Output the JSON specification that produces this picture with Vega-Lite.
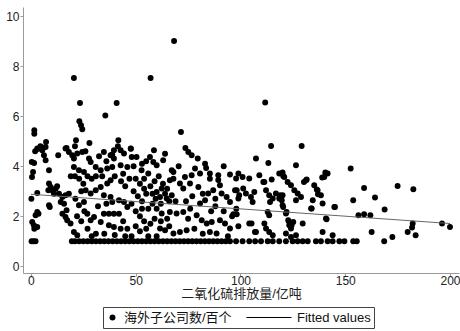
{
  "$schema": "https://vega.github.io/schema/vega-lite/v6.json",
  "width": 436,
  "height": 266,
  "autosize": {"type": "none"},
  "padding": {"left": 23, "top": 7, "right": 1, "bottom": 58},
  "background": "white",
  "config": {
    "view": {"stroke": null},
    "axis": {
      "grid": false,
      "domainColor": "#9a9a9a",
      "tickColor": "#9a9a9a",
      "tickSize": 3,
      "labelFont": "Liberation Sans",
      "labelFontSize": 12,
      "labelColor": "#222",
      "labelPadding": 0,
      "titleFont": "Liberation Sans, Noto Sans CJK SC",
      "titleFontSize": 13,
      "titleFontWeight": "normal",
      "titleColor": "#222"
    },
    "legend": {
      "title": null, "orient": "none", "legendX": 80, "legendY": 300, "direction": "horizontal",
      "clipHeight": 15, "padding": 3, "strokeColor": "#444",
      "labelFont": "Liberation Sans, Noto Sans CJK SC", "labelFontSize": 13, "labelColor": "#111",
      "labelOffset": 5, "symbolOffset": 0, "columnPadding": 14,
      "symbolStrokeColor": "#555", "symbolStrokeWidth": 1, "symbolFillColor": "black"
    }
  },
  "layer": [
    {
      "data": {"values": [
        {"x":0.3,"y":1},{"x":1.2,"y":1},{"x":2.2,"y":1},{"x":19.5,"y":1},{"x":21,"y":1},{"x":23,"y":1},{"x":25,"y":1},{"x":27,"y":1},{"x":29,"y":1},{"x":31,"y":1},{"x":33,"y":1},{"x":35,"y":1},{"x":37,"y":1},{"x":39,"y":1},{"x":41,"y":1},{"x":43,"y":1},{"x":45,"y":1},{"x":47,"y":1},{"x":49,"y":1},{"x":51,"y":1},{"x":53,"y":1},{"x":55,"y":1},{"x":57,"y":1},{"x":59,"y":1},{"x":61,"y":1},{"x":63,"y":1},{"x":65,"y":1},{"x":67,"y":1},{"x":69,"y":1},{"x":71,"y":1},{"x":73,"y":1},{"x":75,"y":1},{"x":77,"y":1},{"x":79,"y":1},{"x":81,"y":1},{"x":83,"y":1},{"x":85,"y":1},{"x":87,"y":1},{"x":89,"y":1},{"x":91,"y":1},{"x":93,"y":1},{"x":95,"y":1},{"x":97.9,"y":1},{"x":101,"y":1},{"x":104.2,"y":1},{"x":107,"y":1},{"x":109.8,"y":1},{"x":113,"y":1},{"x":115.4,"y":1},{"x":118.5,"y":1},{"x":121.7,"y":1},{"x":124.9,"y":1},{"x":127.3,"y":1},{"x":129.7,"y":1},{"x":132.1,"y":1},{"x":136,"y":1},{"x":138.4,"y":1},{"x":141.6,"y":1},{"x":144,"y":1},{"x":147.2,"y":1},{"x":149.6,"y":1},{"x":153.8,"y":1},{"x":155.5,"y":1},{"x":168.6,"y":1},
        {"x":0.6,"y":1.77},{"x":1.4,"y":1.64},{"x":3.0,"y":1.57},{"x":1.6,"y":1.5},{"x":2.2,"y":2.04},{"x":3.0,"y":2.17},{"x":3.6,"y":2.1},{"x":0.2,"y":2.7},{"x":3.0,"y":2.93},{"x":0.5,"y":3.57},{"x":1.0,"y":3.77},{"x":1.5,"y":4.13},{"x":0.4,"y":4.17},{"x":1.6,"y":5.44},{"x":1.6,"y":5.3},{"x":3.0,"y":4.71},{"x":3.5,"y":4.7},{"x":4.5,"y":4.8},{"x":2.0,"y":4.6},
        {"x":5.4,"y":4.64},{"x":7.0,"y":4.77},{"x":7.2,"y":4.97},{"x":5.3,"y":4.75},{"x":6.2,"y":4.44},{"x":7.0,"y":4.24},{"x":8.6,"y":3.84},{"x":8.6,"y":3.31},{"x":9.4,"y":3.17},{"x":8.6,"y":2.44},{"x":9.0,"y":2.37},{"x":11.8,"y":3.1},{"x":13.4,"y":2.9},{"x":15.0,"y":2.77},{"x":16.5,"y":2.84},{"x":18.1,"y":2.9},{"x":14.2,"y":2.57},{"x":15.8,"y":2.5},{"x":15.0,"y":2.1},{"x":16.5,"y":1.97},{"x":17.3,"y":1.84},{"x":18.9,"y":1.71},{"x":13.0,"y":4.44},{"x":16.5,"y":4.71},{"x":18.1,"y":4.57},{"x":19.7,"y":4.44},{"x":17.0,"y":4.73},{"x":10.5,"y":3.0},{"x":12.5,"y":3.2},{"x":8.3,"y":3.04},{"x":17.0,"y":2.24},{"x":19.0,"y":3.6},{"x":11.0,"y":2.9},
        {"x":20.5,"y":7.53},{"x":23.4,"y":6.53},{"x":23.1,"y":5.8},{"x":23.9,"y":5.64},{"x":24.5,"y":5.48},{"x":21.5,"y":5.04},{"x":27.9,"y":4.93},{"x":22.1,"y":4.51},{"x":24.5,"y":4.57},{"x":20.5,"y":4.31},{"x":27.7,"y":4.31},{"x":28.5,"y":4.17},{"x":20.5,"y":3.97},{"x":22.9,"y":3.84},{"x":25.3,"y":3.77},{"x":26.1,"y":3.04},{"x":28.5,"y":2.91},{"x":22.9,"y":2.44},{"x":25.3,"y":2.57},{"x":26.9,"y":2.1},{"x":28.5,"y":1.84},{"x":20.5,"y":1.37},{"x":22.1,"y":1.24},{"x":21.0,"y":3.6},{"x":23.0,"y":3.5},{"x":25.0,"y":3.3},{"x":27.0,"y":3.6},{"x":29.0,"y":3.5},{"x":24.0,"y":3.0},{"x":22.0,"y":2.0},{"x":24.0,"y":1.8},{"x":27.0,"y":1.5},{"x":29.0,"y":1.2},{"x":21.0,"y":4.8},{"x":26.0,"y":4.6},{"x":21.2,"y":2.7},{"x":25.5,"y":2.2},
        {"x":30.9,"y":3.04},{"x":33.3,"y":3.17},{"x":36.4,"y":3.31},{"x":38.0,"y":3.44},{"x":34.8,"y":2.84},{"x":38.0,"y":2.77},{"x":38.8,"y":2.57},{"x":42.0,"y":2.64},{"x":44.4,"y":2.57},{"x":46.0,"y":2.37},{"x":30.1,"y":1.97},{"x":33.3,"y":1.77},{"x":34.8,"y":2.1},{"x":37.2,"y":2.1},{"x":39.6,"y":2.1},{"x":42.0,"y":2.1},{"x":37.2,"y":1.64},{"x":39.6,"y":1.57},{"x":42.8,"y":1.5},{"x":35.5,"y":6.03},{"x":40.9,"y":6.53},{"x":41.7,"y":5.04},{"x":41.5,"y":4.8},{"x":39.6,"y":4.64},{"x":38.8,"y":4.47},{"x":34.8,"y":4.57},{"x":38.0,"y":4.44},{"x":39.6,"y":4.31},{"x":42.8,"y":4.64},{"x":44.4,"y":4.51},{"x":47.6,"y":4.71},{"x":30.9,"y":3.97},{"x":33.3,"y":3.84},{"x":36.4,"y":3.91},{"x":38.8,"y":3.97},{"x":42.8,"y":4.04},{"x":46.0,"y":3.97},{"x":31.0,"y":3.6},{"x":34.0,"y":3.6},{"x":40.0,"y":3.6},{"x":43.0,"y":3.4},{"x":45.0,"y":3.2},{"x":44.0,"y":3.7},{"x":47.0,"y":3.5},{"x":36.0,"y":2.5},{"x":32.0,"y":2.4},{"x":44.0,"y":1.8},{"x":46.0,"y":1.5},{"x":31.0,"y":1.3},{"x":35.0,"y":1.3},{"x":45.0,"y":1.2},{"x":40.0,"y":1.25},{"x":32.5,"y":4.4},{"x":36.0,"y":4.2},
        {"x":47.7,"y":4.7},{"x":50.4,"y":4.37},{"x":48.1,"y":4.37},{"x":52.8,"y":3.84},{"x":56.0,"y":3.71},{"x":58.7,"y":4.64},{"x":56.8,"y":4.37},{"x":58.4,"y":4.17},{"x":60.0,"y":4.04},{"x":63.1,"y":4.24},{"x":57.1,"y":7.53},{"x":67.2,"y":3.84},{"x":68.0,"y":3.77},{"x":66.3,"y":3.44},{"x":62.4,"y":3.11},{"x":60.0,"y":2.97},{"x":61.6,"y":2.77},{"x":64.8,"y":2.71},{"x":67.2,"y":2.84},{"x":62.4,"y":2.11},{"x":66.3,"y":2.17},{"x":69.5,"y":2.11},{"x":61.6,"y":1.51},{"x":64.0,"y":1.44},{"x":68.0,"y":1.31},{"x":50.0,"y":3.5},{"x":52.0,"y":3.3},{"x":54.0,"y":3.1},{"x":49.0,"y":3.0},{"x":51.0,"y":2.8},{"x":53.0,"y":2.6},{"x":55.0,"y":2.9},{"x":57.0,"y":3.2},{"x":59.0,"y":3.4},{"x":48.0,"y":2.5},{"x":50.0,"y":2.2},{"x":52.0,"y":2.0},{"x":54.0,"y":1.8},{"x":56.0,"y":2.3},{"x":58.0,"y":2.5},{"x":60.0,"y":2.3},{"x":62.0,"y":2.5},{"x":64.0,"y":2.9},{"x":66.0,"y":2.6},{"x":55.0,"y":1.5},{"x":57.0,"y":1.7},{"x":59.0,"y":1.9},{"x":50.0,"y":1.6},{"x":52.0,"y":1.4},{"x":48.0,"y":1.2},{"x":60.0,"y":1.2},{"x":62.0,"y":1.8},{"x":65.0,"y":1.9},{"x":69.0,"y":2.6},{"x":53.0,"y":4.1},{"x":55.0,"y":4.2},{"x":49.0,"y":4.0},{"x":61.0,"y":3.6},{"x":63.0,"y":3.3},{"x":65.0,"y":3.1},{"x":68.0,"y":3.5},{"x":54.0,"y":3.5},{"x":58.0,"y":2.9},{"x":59.5,"y":2.7},{"x":56.0,"y":1.2},{"x":66.0,"y":1.6},{"x":53.0,"y":2.3},{"x":64.0,"y":4.5},
        {"x":68.3,"y":9.01},{"x":71.6,"y":5.37},{"x":73.7,"y":4.73},{"x":75.1,"y":4.57},{"x":76.7,"y":4.44},{"x":79.6,"y":4.31},{"x":83.1,"y":4.1},{"x":83.6,"y":3.93},{"x":78.3,"y":3.91},{"x":80.7,"y":3.71},{"x":85.4,"y":3.71},{"x":89.4,"y":3.64},{"x":95.0,"y":3.67},{"x":73.5,"y":3.57},{"x":76.7,"y":3.64},{"x":75.9,"y":3.31},{"x":79.9,"y":3.17},{"x":85.4,"y":3.5},{"x":89.4,"y":3.45},{"x":90.2,"y":3.24},{"x":84.6,"y":2.91},{"x":83.1,"y":2.64},{"x":80.7,"y":2.51},{"x":87.0,"y":3.04},{"x":91.0,"y":2.91},{"x":93.4,"y":2.77},{"x":95.0,"y":2.57},{"x":98.2,"y":3.04},{"x":99.0,"y":3.71},{"x":71.1,"y":3.31},{"x":72.7,"y":3.11},{"x":79.1,"y":2.04},{"x":81.5,"y":1.84},{"x":83.9,"y":1.71},{"x":86.3,"y":1.77},{"x":74.3,"y":1.44},{"x":71.1,"y":1.37},{"x":90.2,"y":1.84},{"x":92.6,"y":1.71},{"x":95.0,"y":1.51},{"x":85.4,"y":1.37},{"x":88.6,"y":1.31},{"x":72.7,"y":2.17},{"x":97.9,"y":3.51},{"x":77.0,"y":2.8},{"x":74.0,"y":2.6},{"x":88.0,"y":2.4},{"x":92.0,"y":2.2},{"x":96.0,"y":2.0},{"x":98.0,"y":2.3},{"x":78.0,"y":1.5},{"x":82.0,"y":1.3},{"x":94.0,"y":1.2},{"x":99.0,"y":1.6},{"x":76.0,"y":2.3},{"x":86.0,"y":2.2},{"x":70.5,"y":4.0},{"x":92.0,"y":4.0},{"x":82.0,"y":2.9},{"x":88.0,"y":2.7},{"x":75.0,"y":1.9},
        {"x":101.0,"y":3.57},{"x":104.2,"y":3.51},{"x":109.0,"y":3.64},{"x":111.4,"y":3.37},{"x":118.5,"y":3.71},{"x":120.9,"y":3.57},{"x":122.5,"y":3.37},{"x":124.1,"y":3.24},{"x":131.3,"y":3.44},{"x":135.2,"y":3.24},{"x":136.8,"y":3.04},{"x":138.4,"y":2.84},{"x":140.0,"y":3.57},{"x":141.6,"y":3.71},{"x":99.4,"y":2.84},{"x":102.6,"y":2.91},{"x":105.0,"y":2.77},{"x":105.8,"y":2.57},{"x":106.6,"y":2.97},{"x":112.2,"y":3.04},{"x":113.7,"y":2.84},{"x":115.4,"y":2.71},{"x":116.9,"y":2.91},{"x":118.5,"y":2.71},{"x":120.1,"y":2.84},{"x":125.7,"y":3.04},{"x":127.3,"y":2.91},{"x":128.9,"y":2.77},{"x":126.5,"y":2.64},{"x":134.5,"y":2.64},{"x":139.2,"y":2.51},{"x":144.8,"y":2.37},{"x":120.1,"y":2.44},{"x":121.7,"y":2.11},{"x":123.3,"y":1.77},{"x":113.0,"y":2.17},{"x":113.7,"y":2.04},{"x":133.7,"y":2.31},{"x":140.8,"y":1.91},{"x":104.2,"y":1.71},{"x":111.4,"y":1.71},{"x":112.2,"y":1.51},{"x":113.7,"y":1.37},{"x":123.3,"y":1.64},{"x":124.1,"y":1.51},{"x":129.7,"y":1.71},{"x":107.4,"y":1.37},{"x":115.4,"y":1.24},{"x":121.7,"y":1.31},{"x":124.1,"y":1.17},{"x":126.5,"y":1.24},{"x":139.2,"y":1.37},{"x":144.0,"y":1.24},{"x":111.8,"y":6.55},{"x":114.6,"y":4.81},{"x":129.2,"y":4.81},{"x":107.4,"y":4.31},{"x":113.3,"y":4.13},{"x":126.5,"y":4.04},{"x":120.1,"y":3.75},{"x":120.4,"y":3.61},{"x":140.5,"y":3.75},{"x":130.3,"y":3.37},{"x":131.6,"y":3.47},{"x":136.4,"y":3.07},{"x":137.0,"y":2.88},{"x":134.0,"y":2.31},{"x":141.1,"y":1.88},{"x":97.4,"y":3.04},{"x":101.3,"y":3.11},{"x":99.0,"y":2.71},{"x":96.6,"y":2.08},{"x":98.2,"y":2.08},{"x":105.3,"y":1.71},{"x":106.9,"y":1.37},{"x":110.9,"y":3.37},{"x":114.9,"y":3.47},{"x":114.1,"y":2.57},{"x":119.7,"y":2.64},{"x":120.4,"y":2.37},{"x":122.0,"y":2.17},{"x":122.8,"y":1.84},{"x":124.4,"y":1.64},{"x":125.2,"y":1.77},{"x":118.9,"y":2.84},
        {"x":152.6,"y":3.91},{"x":139.0,"y":3.55},{"x":175.0,"y":3.21},{"x":182.5,"y":3.08},{"x":159.0,"y":3.13},{"x":164.2,"y":2.75},{"x":153.8,"y":2.64},{"x":145.1,"y":2.37},{"x":168.8,"y":2.27},{"x":156.3,"y":2.04},{"x":159.0,"y":2.08},{"x":162.0,"y":2.04},{"x":196.2,"y":1.71},{"x":200.0,"y":1.57},{"x":182.2,"y":1.71},{"x":181.9,"y":1.55},{"x":179.8,"y":1.37},{"x":183.6,"y":1.24},{"x":162.6,"y":1.37},{"x":172.5,"y":1.17}
      ]},
      "mark": {"type": "point", "filled": true, "color": "black", "opacity": 1},
      "encoding": {
        "x": {"field": "x", "type": "quantitative", "scale": {"domain": [-3.8, 204.3], "nice": false, "zero": false}, "axis": {"values": [0, 50, 100, 150, 200], "title": "二氧化硫排放量/亿吨", "labelPadding": -1, "titlePadding": 1}},
        "y": {"field": "y", "type": "quantitative", "scale": {"domain": [-0.27, 10.37], "nice": false, "zero": false}, "axis": {"values": [0, 2, 4, 6, 8, 10], "title": null, "labelPadding": 1}},
        "shape": {
          "datum": "海外子公司数/百个", "type": "nominal",
          "scale": {"domain": ["海外子公司数/百个", "Fitted values"], "range": ["circle", "M-1,-0.022H1V0.022H-1Z"]},
          "legend": {
            "encode": {"symbols": {"strokeWidth": {"value": 0}, "fill": {"value": "#222"}}}
          }
        },
        "size": {
          "datum": "海外子公司数/百个", "type": "nominal",
          "scale": {"type": "point", "padding": 0, "domain": ["海外子公司数/百个", "Fitted values"], "range": [35, 2025]},
          "legend": {
            "encode": {"symbols": {"strokeWidth": {"value": 0}, "fill": {"value": "#222"}}}
          }
        }
      }
    },
    {
      "data": {"values": [{"x": 0, "y": 2.88}, {"x": 200, "y": 1.71}]},
      "mark": {"type": "line", "color": "#666", "strokeWidth": 1},
      "encoding": {
        "x": {"field": "x", "type": "quantitative"},
        "y": {"field": "y", "type": "quantitative"}
      }
    }
  ]
}
